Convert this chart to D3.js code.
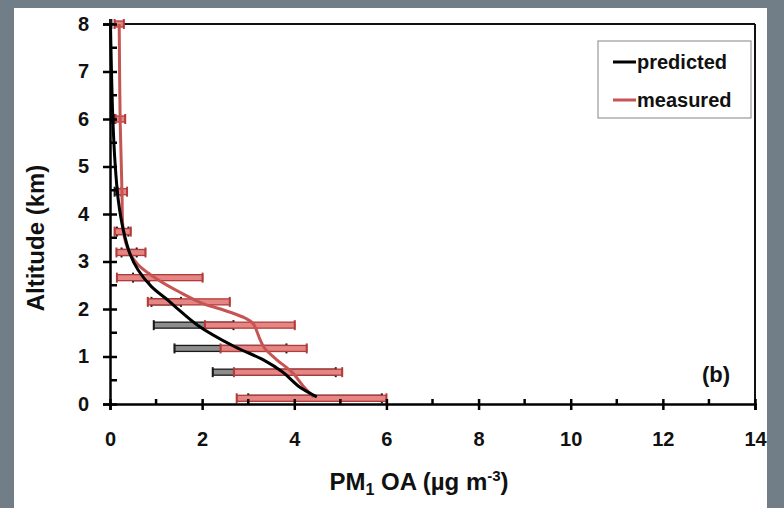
<!DOCTYPE html>
<html><head><meta charset="utf-8">
<script src="https://cdn.jsdelivr.net/npm/d3@7"></script>
<style>body{margin:0;background:#717d87;}svg{display:block;}</style>
</head><body>
<svg id="c" width="784" height="508"></svg>
<script>
// ---- data ----
const xTicks = [0, 2, 4, 6, 8, 10, 12, 14];
const yTicks = [0, 1, 2, 3, 4, 5, 6, 7, 8];
const seriesNames = ["predicted", "measured"];

const predictedAlt = [0.15, 0.37, 0.67, 0.93, 1.21, 1.66, 2.02, 2.19, 2.47, 2.82, 3.17, 3.66, 4.29, 5.07, 6.05, 8.0];
const predictedVal = [4.49, 4.10, 3.75, 3.33, 2.70, 1.90, 1.45, 1.25, 0.90, 0.61, 0.43, 0.29, 0.18, 0.11, 0.06, 0.01];

const measuredAlt = [0.15, 0.37, 0.67, 0.93, 1.17, 1.35, 1.55, 1.70, 1.80, 1.90, 2.00, 2.12, 2.33, 2.61, 2.93, 3.24, 3.63, 4.47, 6.0, 8.0];
const measuredVal = [4.42, 4.20, 3.95, 3.62, 3.36, 3.26, 3.18, 3.10, 2.95, 2.70, 2.40, 2.00, 1.56, 1.05, 0.61, 0.40, 0.29, 0.26, 0.22, 0.20];

const errAlt   = [0.12, 0.67, 1.17, 1.66, 2.15, 2.66, 3.19, 3.63, 4.47, 6.0, 8.0];
const measLow  = [2.75, 2.69, 2.40, 2.06, 0.82, 0.15, 0.14, 0.10, 0.17, 0.12, 0.10];
const measHigh = [6.00, 5.04, 4.27, 4.01, 2.60, 2.01, 0.77, 0.45, 0.37, 0.33, 0.30];
const predLow  = [3.00, 2.23, 1.40, 0.95, 0.90, 0.50, 0.25, 0.15, 0.10, 0.05, 0.00];
const predHigh = [5.90, 4.90, 3.83, 2.68, 1.54, 0.85, 0.58, 0.40, 0.25, 0.10, 0.03];

// ---- setup ----
const svg = d3.select("#c");
svg.append("rect").attr("x", 14).attr("y", 8).attr("width", 753).attr("height", 500).attr("fill", "#fff");

const x = d3.scaleLinear().domain([0, 14]).range([110, 755]);
const y = d3.scaleLinear().domain([0, 8]).range([404, 24]);
const font = "'Liberation Sans', Arial, sans-serif";
const RED = "#c65452";

// frame top & right
svg.append("line").attr("x1", x(0)).attr("x2", x(14)).attr("y1", y(8)).attr("y2", y(8)).attr("stroke", "#111").attr("stroke-width", 2);
svg.append("line").attr("x1", x(14)).attr("x2", x(14)).attr("y1", y(8)).attr("y2", y(0)).attr("stroke", "#111").attr("stroke-width", 2);

// error bars
function errBars(low, high, fill, stroke, cls) {
  const g = svg.append("g").attr("class", cls);
  errAlt.forEach((a, i) => {
    g.append("rect").attr("x", x(low[i])).attr("y", y(a) - 3)
      .attr("width", Math.max(0, x(high[i]) - x(low[i]))).attr("height", 6)
      .attr("fill", fill).attr("stroke", stroke).attr("stroke-width", 1.3);
    [low[i], high[i]].forEach(v => {
      g.append("line").attr("x1", x(v)).attr("x2", x(v)).attr("y1", y(a) - 5).attr("y2", y(a) + 5)
        .attr("stroke", stroke).attr("stroke-width", 2);
    });
  });
}
errBars(predLow, predHigh, "#8d8d8d", "#1a1a1a", "pred-err");
errBars(measLow, measHigh, "#e58684", "#b13c3a", "meas-err");

// lines
const line = d3.line().x(d => x(d[1])).y(d => y(d[0])).curve(d3.curveCatmullRom.alpha(0.5));
svg.append("path").datum(measuredAlt.map((a, i) => [a, measuredVal[i]]))
  .attr("d", line).attr("fill", "none").attr("stroke", RED).attr("stroke-width", 3);
svg.append("path").datum(predictedAlt.map((a, i) => [a, predictedVal[i]]))
  .attr("d", line).attr("fill", "none").attr("stroke", "#000").attr("stroke-width", 3);

// axes
const xAxisG = svg.append("g").attr("transform", `translate(0,${y(0)})`)
  .call(d3.axisBottom(x).tickValues(xTicks).tickSize(6).tickPadding(22).tickFormat(d3.format("d")));
xAxisG.select(".domain").attr("stroke", "#000").attr("stroke-width", 2.5);
xAxisG.selectAll(".tick line").attr("stroke", "#000").attr("stroke-width", 2.5).attr("y1", -5);
xAxisG.selectAll(".tick text").attr("font-family", font).attr("font-weight", "bold").attr("font-size", 20).attr("fill", "#111");
// minor x
const xMinor = d3.range(1, 14, 2);
svg.append("g").selectAll("line").data(xMinor).join("line")
  .attr("x1", d => x(d)).attr("x2", d => x(d)).attr("y1", y(0) - 5).attr("y2", y(0))
  .attr("stroke", "#000").attr("stroke-width", 2.5);

const yAxisG = svg.append("g").attr("transform", `translate(${x(0)},0)`)
  .call(d3.axisLeft(y).tickValues(yTicks).tickSize(7).tickPadding(14).tickFormat(d3.format("d")));
yAxisG.select(".domain").attr("stroke", "#000").attr("stroke-width", 2.5);
yAxisG.selectAll(".tick line").attr("stroke", "#000").attr("stroke-width", 2.5).attr("x1", 7);
yAxisG.selectAll(".tick text").attr("font-family", font).attr("font-weight", "bold").attr("font-size", 20).attr("fill", "#111");
const yMinor = d3.range(0.5, 8, 1);
svg.append("g").selectAll("line").data(yMinor).join("line")
  .attr("x1", x(0)).attr("x2", x(0) + 7).attr("y1", d => y(d)).attr("y2", d => y(d))
  .attr("stroke", "#000").attr("stroke-width", 2.5);

// axis titles
const xt = svg.append("text").attr("x", 419).attr("y", 490).attr("text-anchor", "middle")
  .attr("font-family", font).attr("font-weight", "bold").attr("font-size", 24).attr("fill", "#111");
xt.append("tspan").text("PM");
xt.append("tspan").text("1").attr("font-size", 16).attr("dy", 5);
xt.append("tspan").text(" OA (µg m").attr("dy", -5);
xt.append("tspan").text("-3").attr("font-size", 15).attr("dy", -9);
xt.append("tspan").text(")").attr("dy", 9);

svg.append("text").attr("transform", "translate(44,238) rotate(-90)").attr("text-anchor", "middle")
  .attr("font-family", font).attr("font-weight", "bold").attr("font-size", 24).attr("fill", "#111")
  .text("Altitude (km)");

// legend
const lg = svg.append("g");
lg.append("rect").attr("x", 598).attr("y", 41).attr("width", 153).attr("height", 77)
  .attr("fill", "#fff").attr("stroke", "#999").attr("stroke-width", 1.2);
const legColors = ["#000", RED];
seriesNames.forEach((n, i) => {
  const ly = 62 + i * 38;
  lg.append("line").attr("x1", 613).attr("x2", 636).attr("y1", ly).attr("y2", ly)
    .attr("stroke", legColors[i]).attr("stroke-width", 3);
  lg.append("text").attr("x", 637).attr("y", ly + 7).attr("font-family", font).attr("font-weight", "bold")
    .attr("font-size", 20).attr("fill", "#111").text(n);
});

svg.append("text").attr("x", 702).attr("y", 382).attr("font-family", font).attr("font-weight", "bold")
  .attr("font-size", 22).attr("fill", "#111").text("(b)");
</script>
</body></html>
